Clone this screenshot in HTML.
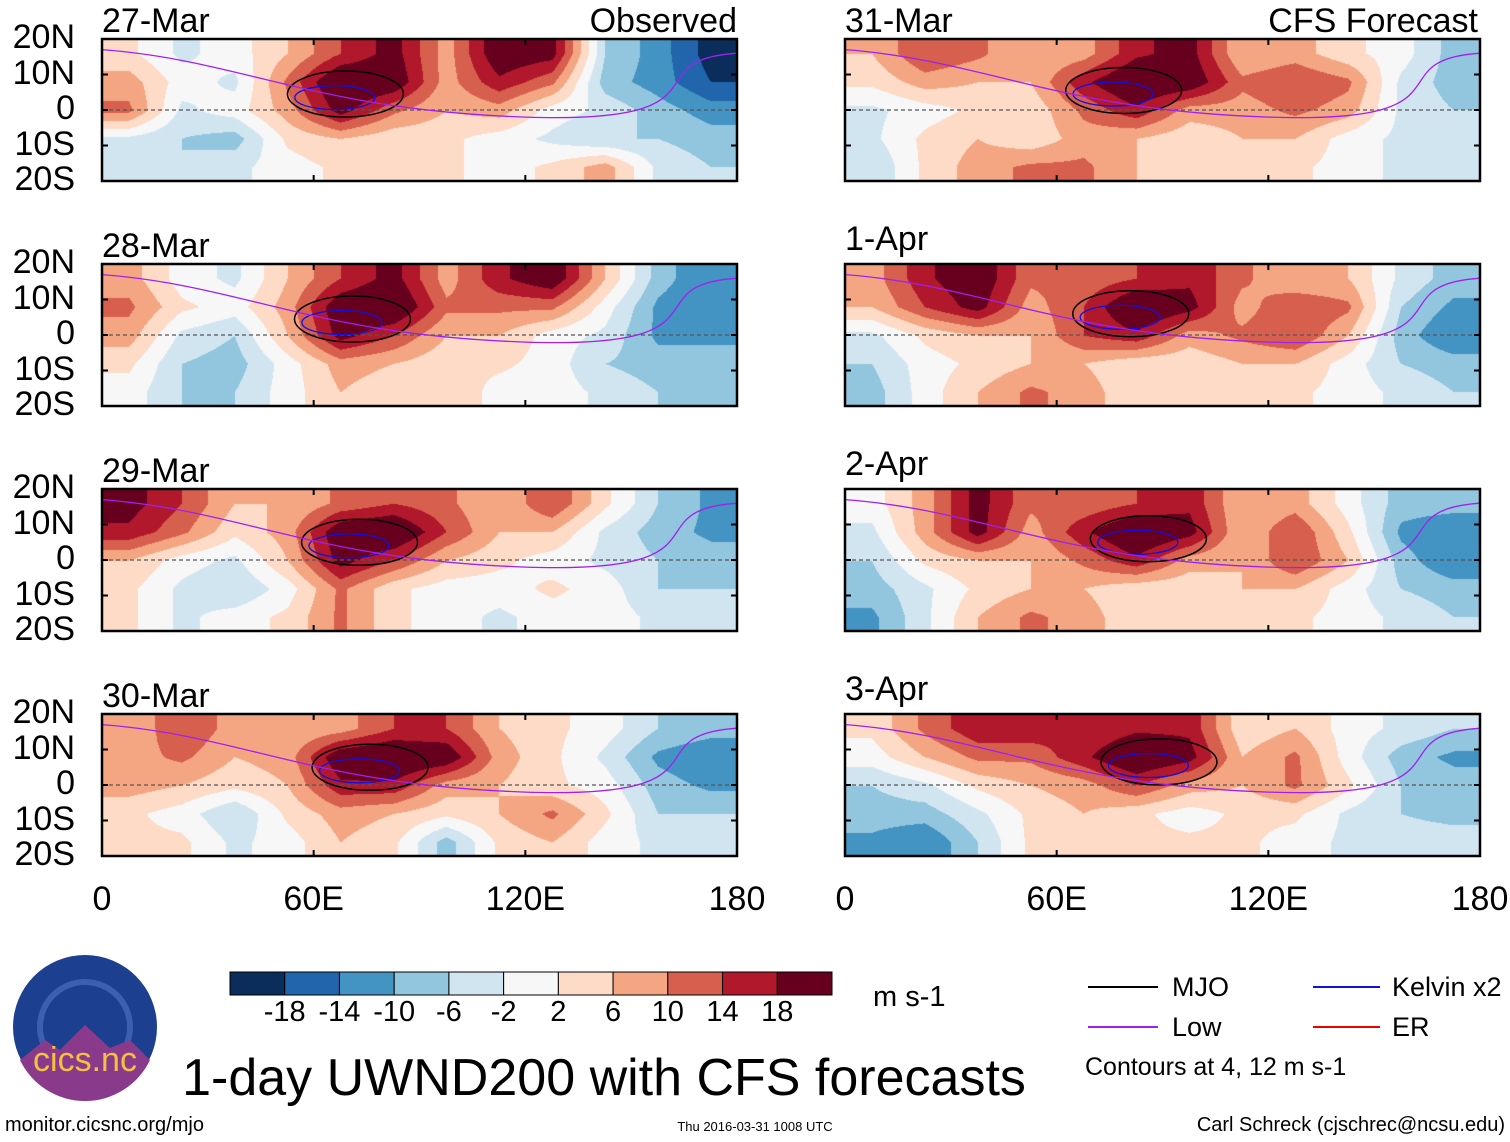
<!DOCTYPE html>
<html><head><meta charset="utf-8">
<style>
body{margin:0;background:#fff;font-family:"Liberation Sans",sans-serif;}
#root{position:relative;width:1510px;height:1142px;overflow:hidden;background:#fff;}
.t{position:absolute;white-space:nowrap;color:#000;}
canvas{position:absolute;}
svg{position:absolute;left:0;top:0;}
</style></head><body>
<div id="root">
<svg id="ov" width="1510" height="1142"></svg>
</div>
<script>
// grid: 12 lon bins (0-180 by 15), 5 lat rows (20N..20S)
const panelTitles=["27-Mar","28-Mar","29-Mar","30-Mar","31-Mar","1-Apr","2-Apr","3-Apr"];
const fields=[
[[3,-3,0,6,14,20,8,22,20,-6,-12,-20],[8,0,-3,11,24,22,8,17,11,-8,-12,-18],[11,-3,0,8,20,11,6,8,0,-3,-8,-12],[-3,-6,-8,3,6,3,3,0,-3,-6,-6,-8],[-6,-6,-3,0,3,6,3,0,3,8,-3,-6]],
[[8,0,-3,6,14,20,8,17,22,6,-8,-14],[11,3,0,8,22,24,11,11,11,0,-11,-14],[8,-3,-6,6,20,14,6,6,0,-3,-11,-11],[3,-6,-8,0,8,6,3,3,0,-6,-8,-8],[0,-6,-6,0,6,3,6,0,0,-3,-6,-6]],
[[20,14,6,6,11,14,11,6,14,3,-6,-11],[17,11,3,8,22,24,14,6,6,-3,-8,-11],[6,0,-3,6,20,14,6,3,0,-3,-6,-8],[3,-3,-6,0,11,3,0,0,3,0,-6,-6],[3,-3,0,3,11,3,0,-3,0,0,-3,-3]],
[[6,14,8,6,8,14,14,6,3,0,-6,-8],[8,11,6,8,22,24,22,8,3,-3,-11,-14],[8,6,3,6,17,17,8,6,3,0,-8,-11],[3,0,-6,3,8,6,3,6,11,3,-6,-6],[3,3,-3,0,6,3,-8,3,6,0,-3,-3]],
[[6,14,11,6,8,17,20,6,8,3,0,-8],[3,8,6,6,17,24,22,11,14,11,-3,-8],[-3,0,3,3,11,17,8,8,11,8,-3,-6],[-3,3,6,3,8,6,3,6,6,0,-3,-6],[-6,3,8,11,11,6,6,6,3,0,-3,-6]],
[[8,17,22,11,11,14,17,11,6,6,-3,-8],[6,14,20,8,14,24,20,8,14,11,-6,-11],[-3,3,6,6,14,17,8,11,14,6,-8,-14],[-6,0,3,6,6,3,3,6,6,0,-6,-8],[-8,0,6,11,8,3,6,6,3,0,-3,-6]],
[[0,8,20,11,11,14,17,6,8,0,-8,-8],[-3,8,20,8,17,24,20,6,14,3,-11,-14],[-6,3,6,6,11,17,8,6,14,6,-8,-14],[-8,-3,3,6,6,3,3,6,6,0,-6,-8],[-11,-3,6,11,8,3,3,6,3,0,-3,-6]],
[[3,11,17,17,14,17,17,3,6,0,-3,-6],[0,6,11,11,17,24,20,6,11,0,-8,-11],[-6,-3,3,6,8,14,8,6,11,3,-6,-8],[-8,-8,-3,3,6,3,0,3,3,-3,-6,-8],[-11,-14,-6,3,3,3,3,3,0,-3,-3,-3]]
];
const mjoLon=[69,71,73,76,79,81,86,89];
const mjoLat=[4.5,4.5,5,5,5.5,6,6,6.5];
const levels=[-18,-14,-10,-6,-2,2,6,10,14,18];
const colors=["#0b2d5c","#2166ac","#4393c3","#92c5de","#d1e5f0","#f7f7f7","#fddbc7","#f4a582","#d6604d","#b2182b","#67001f"];
const cbLabels=["-18","-14","-10","-6","-2","2","6","10","14","18"];
const lonTicks=[0,60,120,180];const lonTickLabels=["0","60E","120E","180"];
const latTicks=[20,10,0,-10,-20];const latTickLabels=["20N","10N","0","10S","20S"];

const root=document.getElementById('root');const ov=document.getElementById('ov');
const NS="http://www.w3.org/2000/svg";
const PW=635,PH=142;const colX=[102,845];const rowY=[39,264,489,714];
function xS(p,lon){return p.x+lon/180*PW;}
function yS(p,lat){return p.y+(20-lat)/40*PH;}
function txt(s,x,y,size,anchor,name){const d=document.createElement('div');d.className='t';d.textContent=s;d.style.fontSize=size+'px';d.style.top=(y-size)+'px';
 if(anchor==='end'){d.style.right=(1510-x)+'px';}else if(anchor==='middle'){d.style.left=x+'px';d.style.transform='translateX(-50%)';}else d.style.left=x+'px';
 
 
 root.appendChild(d);return d;}
function col(v){let i=0;while(i<levels.length&&v>=levels[i])i++;return colors[i];}
function hex(c){return [parseInt(c.slice(1,3),16),parseInt(c.slice(3,5),16),parseInt(c.slice(5,7),16)];}
function sample(f,lon,lat){
 let cx=lon/15-0.5;let cy=(20-lat)/8-0.5;cx=Math.max(0,Math.min(10.999,cx));cy=Math.max(0,Math.min(3.999,cy));
 const i=Math.floor(cx),j=Math.floor(cy),fx=cx-i,fy=cy-j;
 const a=f[j][i]*(1-fx)+f[j][i+1]*fx,b=f[j+1][i]*(1-fx)+f[j+1][i+1]*fx;return a*(1-fy)+b*fy;}
function el(tag,attrs,name){const e=document.createElementNS(NS,tag);for(const k in attrs)e.setAttribute(k,attrs[k]);ov.appendChild(e);return e;}

for(let k=0;k<8;k++){
 const p={x:colX[k<4?0:1],y:rowY[k%4]};
 const c=document.createElement('canvas');c.width=PW;c.height=PH;c.style.left=p.x+'px';c.style.top=p.y+'px';
 
 
 root.insertBefore(c,ov);
 const ctx=c.getContext('2d');const im=ctx.createImageData(PW,PH);
 for(let py=0;py<PH;py++)for(let px=0;px<PW;px++){
  const v=sample(fields[k],px/PW*180,20-py/PH*40);const rgb=hex(col(v));const o=(py*PW+px)*4;
  im.data[o]=rgb[0];im.data[o+1]=rgb[1];im.data[o+2]=rgb[2];im.data[o+3]=255;}
 ctx.putImageData(im,0,0);
 el('line',{x1:p.x,x2:p.x+PW,y1:yS(p,0),y2:yS(p,0),stroke:'#555','stroke-width':1.2,'stroke-dasharray':'4,3'},'equator-line');
 el('ellipse',{cx:xS(p,mjoLon[k]),cy:yS(p,mjoLat[k]),rx:58,ry:23,fill:'none',stroke:'#000','stroke-width':1.5},'mjo-contour');
 el('ellipse',{cx:xS(p,mjoLon[k]-3),cy:yS(p,mjoLat[k]-1),rx:40,ry:12,fill:'none',stroke:'#1010e0','stroke-width':1.3},'kelvin-contour');
 el('path',{d:`M${xS(p,0)},${yS(p,17)} C${xS(p,40)},${yS(p,14)} ${xS(p,60)},${yS(p,0)} ${xS(p,120)},${yS(p,-2)} S${xS(p,150)},${yS(p,14)} ${xS(p,180)},${yS(p,16)}`,fill:'none',stroke:'#a020f0','stroke-width':1.3},'low-contour');
 el('rect',{x:p.x,y:p.y,width:PW,height:PH,fill:'none',stroke:'#000','stroke-width':2.5},'panel-frame');
 lonTicks.forEach(l=>{const x=xS(p,l);
  el('line',{x1:x,x2:x,y1:p.y,y2:p.y+6,stroke:'#000','stroke-width':2},'lon-tick');
  el('line',{x1:x,x2:x,y1:p.y+PH-6,y2:p.y+PH,stroke:'#000','stroke-width':2},'lon-tick');});
 latTicks.forEach(l=>{const y=yS(p,l);
  el('line',{x1:p.x,x2:p.x+6,y1:y,y2:y,stroke:'#000','stroke-width':2},'lat-tick');
  el('line',{x1:p.x+PW-6,x2:p.x+PW,y1:y,y2:y,stroke:'#000','stroke-width':2},'lat-tick');});
 txt(panelTitles[k],p.x,p.y-3+(k>=5?-7:0),34,'start','panel-title');
 if(k<4) latTicks.forEach((l,i)=>txt(latTickLabels[i],75,yS(p,l)+13,34,'end','lat-label'));
}
txt("Observed",737,36,34,'end','observed-label');
txt("CFS Forecast",1478,36,34,'end','forecast-label');
colX.forEach(x0=>lonTicks.forEach((l,i)=>txt(lonTickLabels[i],x0+l/180*PW,914,34,'middle','lon-label')));
const cbX=230,cbW=602/11;
colors.forEach((c,i)=>el('rect',{x:cbX+i*cbW,y:972,width:cbW,height:23,fill:c,stroke:'#000','stroke-width':1},'colorbar-box'));
cbLabels.forEach((s,i)=>txt(s,cbX+(i+1)*cbW,1025,29,'middle','colorbar-label'));
txt("m s-1",873,1010,29,'start','units-label');
el('line',{x1:1088,x2:1158,y1:987,y2:987,stroke:'#000','stroke-width':2},'legend-mjo-line');
el('line',{x1:1313,x2:1380,y1:987,y2:987,stroke:'#1010e0','stroke-width':2},'legend-kelvin-line');
el('line',{x1:1088,x2:1158,y1:1027,y2:1027,stroke:'#a020f0','stroke-width':2},'legend-low-line');
el('line',{x1:1313,x2:1380,y1:1027,y2:1027,stroke:'#ee0000','stroke-width':2},'legend-er-line');
txt("MJO",1172,999,27,'start','legend-mjo');txt("Kelvin x2",1392,999,27,'start','legend-kelvin');
txt("Low",1172,1039,27,'start','legend-low');txt("ER",1392,1039,27,'start','legend-er');
txt("Contours at 4, 12 m s-1",1085,1078,25,'start','contour-note');
txt("1-day UWND200 with CFS forecasts",604,1100,52,'middle','main-title');
txt("monitor.cicsnc.org/mjo",5,1134,20,'start','url-label');
txt("Thu 2016-03-31 1008 UTC",755,1132,13,'middle','timestamp');
txt("Carl Schreck (cjschrec@ncsu.edu)",1505,1134,20,'end','author-label');
el('circle',{cx:85,cy:1027,r:72,fill:'#1d3f8f'},'logo-circle');
el('circle',{cx:85,cy:1027,r:45,fill:'none',stroke:'#3c5fb0','stroke-width':6},'logo-ring');
el('path',{d:'M20,1060 L45,1040 L60,1050 L85,1025 L110,1048 L130,1040 L150,1060 A72,72 0 0 1 20,1060 Z',fill:'#8a3a8a'},'logo-mountain');
txt("cics.nc",85,1075,34,'middle','logo-text').style.color='#f5c040';
</script>
</body></html>
